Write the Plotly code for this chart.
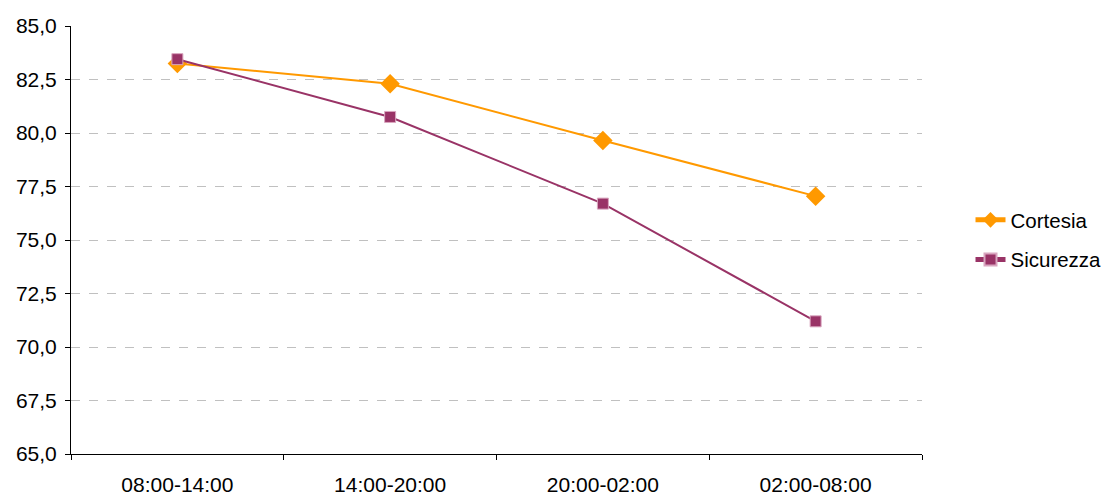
import plotly.graph_objects as go

categories = ["08:00-14:00", "14:00-20:00", "20:00-02:00", "02:00-08:00"]
cortesia = [83.25, 82.3, 79.65, 77.05]
sicurezza = [83.45, 80.75, 76.7, 71.2]

fig = go.Figure()
fig.add_trace(go.Scatter(
    x=categories, y=cortesia, name="Cortesia", mode="lines+markers",
    legendgroup="a",
    line=dict(color="#FF9900", width=2),
    marker=dict(symbol="diamond", size=15, color="#FF9900"),
))
fig.add_trace(go.Scatter(
    x=categories, y=sicurezza, name="Sicurezza", mode="lines+markers",
    legendgroup="b",
    line=dict(color="#993366", width=2),
    marker=dict(symbol="square", size=11, color="#993366",
                line=dict(color="#D9A6BF", width=1)),
))

fig.update_layout(
    width=1101, height=488,
    margin=dict(l=63, r=187, t=18, b=42, autoexpand=False),
    paper_bgcolor="white", plot_bgcolor="white",
    separators=",.",
    font=dict(family="Liberation Sans, Arial, sans-serif", size=21, color="black"),
    showlegend=True,
    legend=dict(x=1.057, y=0.5, yanchor="middle", xanchor="left",
                font=dict(size=20.5), traceorder="grouped", tracegroupgap=10,
                itemsizing="constant", bgcolor="rgba(0,0,0,0)"),
    xaxis=dict(
        type="category", showgrid=False, showline=True, linecolor="black", linewidth=1,
        ticks="outside", tickson="boundaries", ticklen=5, tickcolor="black",
        range=[-0.5, 3.5], fixedrange=True, ticklabelstandoff=12, automargin=False,
    ),
    yaxis=dict(
        range=[65, 85], dtick=2.5, tick0=65, tickformat=".1f",
        showgrid=True, gridcolor="#C0C0C0", griddash="dash", gridwidth=1,
        showline=True, linecolor="black", linewidth=1,
        ticks="outside", ticklen=5, tickcolor="black", zeroline=False,
        ticklabelstandoff=4, automargin=False,
    ),
)

fig.write_html("out.html")
